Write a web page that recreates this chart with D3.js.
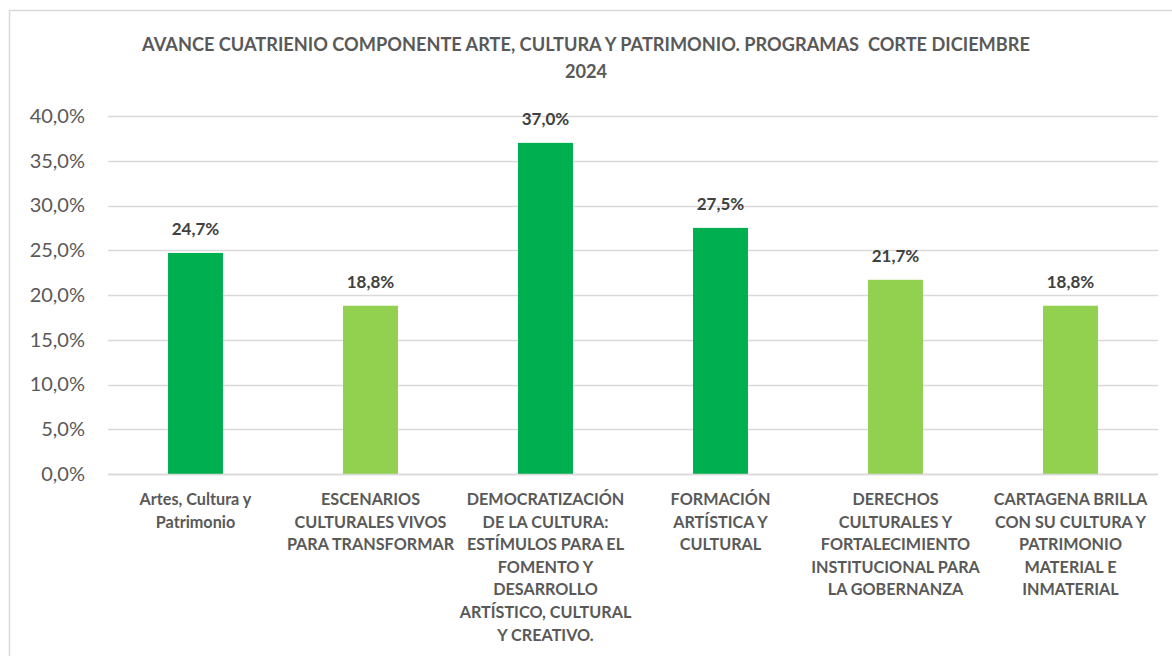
<!DOCTYPE html>
<html>
<head>
<meta charset="utf-8">
<script src="https://cdn.jsdelivr.net/npm/d3@7"></script>
<style>
  body { margin: 0; background: #fff; }
  svg text { font-family: Lato, "Open Sans", sans-serif; }
</style>
</head>
<body>
<div id="chart"></div>
<script>
// chart data
var title_lines = ["AVANCE CUATRIENIO COMPONENTE ARTE, CULTURA Y PATRIMONIO. PROGRAMAS  CORTE DICIEMBRE", "2024"];
var categories = [
	"Artes, Cultura y|Patrimonio",
	"ESCENARIOS|CULTURALES VIVOS|PARA TRANSFORMAR",
	"DEMOCRATIZACIÓN|DE LA CULTURA:|ESTÍMULOS PARA EL|FOMENTO Y|DESARROLLO|ARTÍSTICO, CULTURAL|Y CREATIVO.",
	"FORMACIÓN|ARTÍSTICA Y|CULTURAL",
	"DERECHOS|CULTURALES Y|FORTALECIMIENTO|INSTITUCIONAL PARA|LA GOBERNANZA",
	"CARTAGENA BRILLA|CON SU CULTURA Y|PATRIMONIO|MATERIAL E|INMATERIAL"
];
var values = [0.247, 0.188, 0.370, 0.275, 0.217, 0.188];
var bar_kind = ["dark", "light", "dark", "dark", "light", "light"];
var y_ticks = [0, 0.05, 0.10, 0.15, 0.20, 0.25, 0.30, 0.35, 0.40];

var width = 1172, height = 656;
var colors = {dark: "#00B050", light: "#92D050"};
var fmt = function (v) { return (v * 100).toFixed(1).replace(".", ",") + "%"; };

var svg = d3.select("#chart").append("svg")
	.attr("width", width)
	.attr("height", height);

/* outer border of the chart area */
svg.append("rect")
	.attr("x", 9.5).attr("y", 10.5)
	.attr("width", 1180).attr("height", 700)
	.attr("fill", "#fff")
	.attr("stroke", "#d9d9d9")
	.attr("stroke-width", 1.5);

/* title */
svg.append("g").selectAll("text")
	.data(title_lines)
	.enter().append("text")
	.attr("x", 586)
	.attr("y", function (d, i) { return 51 + i * 27; })
	.attr("text-anchor", "middle")
	.attr("font-size", "18.2px")
	.attr("font-weight", "bold")
	.attr("fill", "#595959")
	.style("white-space", "pre")
	.text(function (d) { return d; });

var plot = {left: 108, right: 1158, top: 116, bottom: 474};

var x = d3.scaleBand()
	.domain(d3.range(categories.length))
	.range([plot.left, plot.right])
	.paddingInner(0.686)
	.paddingOuter(0.343);

var y = d3.scaleLinear()
	.domain([0, 0.40])
	.range([plot.bottom, plot.top]);

/* gridlines */
svg.append("g").selectAll("line")
	.data(y_ticks)
	.enter().append("line")
	.attr("x1", plot.left).attr("x2", plot.right)
	.attr("y1", function (d) { return Math.round(y(d)) + 0.5; })
	.attr("y2", function (d) { return Math.round(y(d)) + 0.5; })
	.attr("stroke", "#d9d9d9")
	.attr("stroke-width", 1.5);

/* y axis labels */
var yAxis = d3.axisLeft(y).tickValues(y_ticks).tickFormat(fmt).tickSize(0).tickPadding(23);
var yg = svg.append("g")
	.attr("transform", "translate(" + plot.left + ",0)")
	.call(yAxis);
yg.select(".domain").remove();
yg.selectAll("text")
	.attr("font-family", "Lato, 'Open Sans', sans-serif")
	.attr("font-size", "20px")
	.attr("fill", "#595959");

/* bars */
svg.append("g").selectAll("rect")
	.data(values)
	.enter().append("rect")
	.attr("x", function (d, i) { return x(i); })
	.attr("width", x.bandwidth())
	.attr("y", function (d) { return y(d); })
	.attr("height", function (d) { return y(0) - y(d); })
	.attr("fill", function (d, i) { return colors[bar_kind[i]]; });

/* baseline redrawn above the bars */
svg.append("line")
	.attr("x1", plot.left).attr("x2", plot.right)
	.attr("y1", y(0) + 0.5).attr("y2", y(0) + 0.5)
	.attr("stroke", "#d9d9d9")
	.attr("stroke-width", 1.5);

/* data labels */
svg.append("g").selectAll("text")
	.data(values)
	.enter().append("text")
	.attr("x", function (d, i) { return x(i) + x.bandwidth() / 2; })
	.attr("y", function (d) { return y(d) - 18; })
	.attr("text-anchor", "middle")
	.attr("font-size", "17px")
	.attr("font-weight", "bold")
	.attr("fill", "#404040")
	.text(fmt);

/* category labels, one tspan per line */
var cat = svg.append("g").selectAll("text")
	.data(categories)
	.enter().append("text")
	.attr("text-anchor", "middle")
	.attr("font-size", "16.2px")
	.attr("font-weight", "bold")
	.attr("fill", "#595959");

cat.selectAll("tspan")
	.data(function (d, i) {
		return d.split("|").map(function (t) { return {t: t, i: i}; });
	})
	.enter().append("tspan")
	.attr("x", function (d) { return x(d.i) + x.bandwidth() / 2; })
	.attr("y", function (d, j) { return 505 + j * 22.6; })
	.text(function (d) { return d.t; });
</script>
</body>
</html>
